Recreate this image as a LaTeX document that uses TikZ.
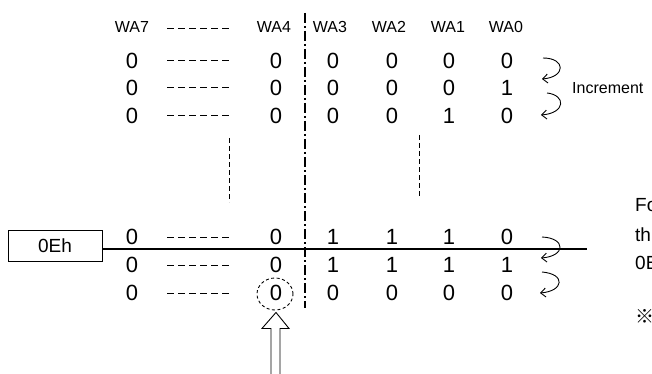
\documentclass[tikz,border=0pt]{standalone}
\usepackage{fontspec}
\setmainfont{Liberation Sans}
\newfontfamily\cjkfont{Noto Sans CJK JP}
\usetikzlibrary{arrows.meta,shapes.geometric,calc}
\begin{document}
\begin{tikzpicture}[x=1pt,y=-1pt,
  hdr/.style={font=\fontsize{16}{16}\selectfont, inner sep=0pt},
  dig/.style={font=\fontsize{22}{22}\selectfont, inner sep=0pt},
  gapline/.style={line width=1pt, dash pattern=on 7pt off 4pt},
  vdots/.style={line width=0.9pt, dash pattern=on 5pt off 3pt},
  divider/.style={line width=1.3pt, dash pattern=on 10pt off 3pt on 2pt off 3pt},
  incr/.style={line width=0.9pt, -{Straight Barb[length=5pt,width=9pt]}},
  sidetext/.style={font=\fontsize{19}{19}\selectfont, anchor=west, inner sep=0pt},
  ]
\useasboundingbox (0,0) rectangle (652,374);
% header
\node[hdr] (h7) at (132,27) {WA7};
\node[hdr] (h4) at (274,27) {WA4};
\node[hdr] (h3) at (330,27) {WA3};
\node[hdr] (h2) at (389,27) {WA2};
\node[hdr] (h1) at (448,27) {WA1};
\node[hdr] (h0) at (506,27) {WA0};
\draw[gapline] (167,29) -- (231,29);
% rows
\foreach \r/\y/\a/\b/\c/\d in {1/61/0/0/0/0, 2/88/0/0/0/1, 3/116/0/0/1/0, 4/237/1/1/1/0, 5/265/1/1/1/1, 6/293/0/0/0/0} {
  \node[dig] (r\r-c7) at (132,\y) {0};
  \node[dig] (r\r-c4) at (276,\y) {0};
  \node[dig] (r\r-c3) at (333,\y) {\a};
  \node[dig] (r\r-c2) at (392,\y) {\b};
  \node[dig] (r\r-c1) at (449,\y) {\c};
  \node[dig] (r\r-c0) at (507,\y) {\d};
  \draw[gapline] (167,\y) -- (231,\y);
}
% vertical ellipsis lines
\draw[vdots] (229,138) -- (229,202);
\draw[vdots] (419,135) -- (419,198);
% divider
\coordinate (dtop) at (305,13);
\coordinate (dbot) at (305,308);
\draw[divider] (dtop) -- (dbot);
% box and line
\node[draw, line width=0.9pt, minimum width=94pt, minimum height=31pt, inner sep=0pt,
  font=\fontsize{19}{19}\selectfont] (box) at (55,245.5) {0Eh};
\coordinate (lineend) at (587,249);
\draw[line width=1.6pt] ([yshift=-3.5pt]box.east) -- (lineend);
% increment arrows
\draw[incr] (543,58) .. controls (566,58) and (566,77) .. (542,79);
\draw[incr] (547,93) .. controls (566,95) and (566,113) .. (541,115);
\draw[incr] (542,237) .. controls (566,238) and (566,256) .. (541,258);
\draw[incr] (542,272) .. controls (566,274) and (564,291) .. (540,293);
\node[font=\fontsize{16}{16}\selectfont, anchor=west, inner sep=0pt] (inc) at (572,88) {Increment};
% circle and up arrow
\node[draw, ellipse, dash pattern=on 3pt off 2.5pt, line width=0.9pt,
  minimum width=36pt, minimum height=32pt, inner sep=0pt] (circ) at (275,294) {};
\draw[line width=0.9pt] ($(circ.south)+(-4,64)$) -- ++(0,-46) -- ++(-9,0)
  -- ($(circ.south)+(1,2)$) -- ($(circ.south)+(14,18)$) -- ++(-9,0) -- ++(0,46);
% side text (cut at the picture edge, as in the reference)
\begin{scope}
\clip (0,0) rectangle (652,374);
\node[sidetext] (t1) at (635,205) {Fo};
\node[sidetext] (t2) at (635,235) {th};
\node[sidetext] (t3) at (635,263) {0E};
\node[sidetext, font=\cjkfont\fontsize{19}{19}\selectfont] (t4) at (635,316) {※};
\end{scope}
\end{tikzpicture}
\end{document}
